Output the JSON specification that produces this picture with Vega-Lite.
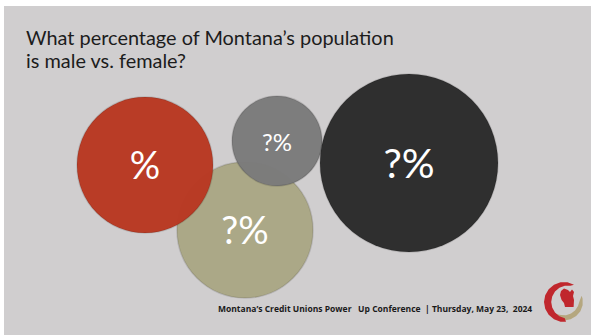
{
  "$schema": "https://vega.github.io/schema/vega-lite/v6.json",
  "width": 587,
  "height": 329,
  "padding": {"left": 4, "top": 6, "right": 0, "bottom": 0},
  "autosize": "none",
  "background": "#ffffff",
  "config": {"view": {"fill": "#d0cecf", "stroke": null}},
  "datasets": {
    "bubbles": [
      {"name": "tan", "label": "?%", "x": 245, "y": 230, "area": 58.4},
      {"name": "red", "label": "%", "x": 145, "y": 165, "area": 58.4},
      {"name": "gray", "label": "?%", "x": 277, "y": 141, "area": 25.6},
      {"name": "black", "label": "?%", "x": 409, "y": 163, "area": 100}
    ],
    "title": [
      {"text": "What percentage of Montana’s population", "x": 26, "y": 45},
      {"text": "is male vs. female?", "x": 26, "y": 68}
    ],
    "footer": [
      {"text": "Montana’s Credit Unions Power\u00a0\u00a0 Up Conference\u00a0 | Thursday, May 23,\u00a0 2024", "x": 218, "y": 312}
    ],
    "logo": [{"x": 564, "y": 302}]
  },
  "layer": [
    {
      "data": {"name": "bubbles"},
      "mark": {"type": "point", "shape": "circle", "filled": true, "stroke": "#000000", "strokeOpacity": 0.12, "strokeWidth": 1.5},
      "encoding": {
        "x": {"field": "x", "type": "quantitative", "scale": {"domain": [4, 591], "nice": false, "zero": false}, "axis": null},
        "y": {"field": "y", "type": "quantitative", "scale": {"domain": [6, 335], "reverse": true, "nice": false, "zero": false}, "axis": null},
        "size": {"field": "area", "type": "quantitative", "scale": {"domain": [0, 100], "range": [0, 31684]}, "legend": null},
        "color": {"field": "name", "type": "nominal", "scale": {"domain": ["tan", "red", "gray", "black"], "range": ["#aba887", "#b93a24", "#7b7b7b", "#272727"]}, "legend": null},
        "opacity": {"field": "name", "type": "nominal", "scale": {"domain": ["tan", "red", "gray", "black"], "range": [1, 0.95, 0.9, 1]}, "legend": null},
        "order": {"value": 0}
      }
    },
    {
      "data": {"name": "bubbles"},
      "mark": {"type": "text", "font": "Lato", "color": "#ffffff", "baseline": "middle", "align": "center", "dy": 3},
      "encoding": {
        "x": {"field": "x", "type": "quantitative"},
        "y": {"field": "y", "type": "quantitative"},
        "text": {"field": "label"},
        "size": {"field": "area", "type": "quantitative", "scale": {"type": "linear", "domain": [25.6, 58.4, 100], "range": [24, 38, 41]}, "legend": null}
      }
    },
    {
      "data": {"name": "title"},
      "mark": {"type": "text", "font": "Lato", "fontSize": 19.9, "color": "#1c1c1c", "align": "left", "baseline": "alphabetic"},
      "encoding": {
        "x": {"field": "x", "type": "quantitative"},
        "y": {"field": "y", "type": "quantitative"},
        "text": {"field": "text"}
      }
    },
    {
      "data": {"name": "footer"},
      "mark": {"type": "text", "font": "Open Sans", "fontSize": 8.5, "fontWeight": "bold", "color": "#1a1a1a", "align": "left", "baseline": "alphabetic"},
      "encoding": {
        "x": {"field": "x", "type": "quantitative"},
        "y": {"field": "y", "type": "quantitative"},
        "text": {"field": "text"}
      }
    },
    {
      "data": {"name": "logo"},
      "mark": {"type": "point", "filled": true, "fill": "#b5a77f", "opacity": 1, "strokeWidth": 0, "size": 1600, "shape": "M-0.78,0.46 L-0.57,0.7 L-0.29,0.86 L0.02,0.92 L0.33,0.86 L0.61,0.7 L0.82,0.46 L0.93,0.16 L0.93,-0.16 L0.88,-0.31 L0.78,-0.05 L0.7,0.2 L0.55,0.42 L0.35,0.58 L0.1,0.66 L-0.15,0.65 L-0.4,0.6 L-0.6,0.53 Z"},
      "encoding": {
        "x": {"field": "x", "type": "quantitative"},
        "y": {"field": "y", "type": "quantitative"}
      }
    },
    {
      "data": {"name": "logo"},
      "mark": {"type": "point", "filled": true, "fill": "#c0272d", "opacity": 1, "strokeWidth": 0, "size": 1600, "shape": "M0.5,-0.866 L0.174,-0.985 L-0.174,-0.985 L-0.5,-0.866 L-0.766,-0.643 L-0.94,-0.342 L-1,0 L-0.94,0.342 L-0.766,0.643 L-0.5,0.866 L-0.174,0.985 L0.1,0.99 L0.04,0.81 L-0.23,0.71 L-0.45,0.53 L-0.59,0.28 L-0.64,0 L-0.59,-0.28 L-0.45,-0.53 L-0.23,-0.71 L0.04,-0.81 L0.32,-0.81 Z"},
      "encoding": {
        "x": {"field": "x", "type": "quantitative"},
        "y": {"field": "y", "type": "quantitative"}
      }
    },
    {
      "data": {"name": "logo"},
      "mark": {"type": "point", "filled": true, "fill": "#c0272d", "opacity": 1, "strokeWidth": 0, "size": 1600, "shape": "M-0.15,-0.55 L0.0,-0.68 L0.2,-0.6 L0.3,-0.5 L0.4,-0.62 L0.5,-0.5 L0.45,-0.3 L0.5,-0.1 L0.48,0.25 L0.05,0.25 L0.0,0.05 L-0.12,-0.1 L-0.2,-0.35 Z"},
      "encoding": {
        "x": {"field": "x", "type": "quantitative"},
        "y": {"field": "y", "type": "quantitative"}
      }
    }
  ],
  "resolve": {"scale": {"size": "independent"}}
}
